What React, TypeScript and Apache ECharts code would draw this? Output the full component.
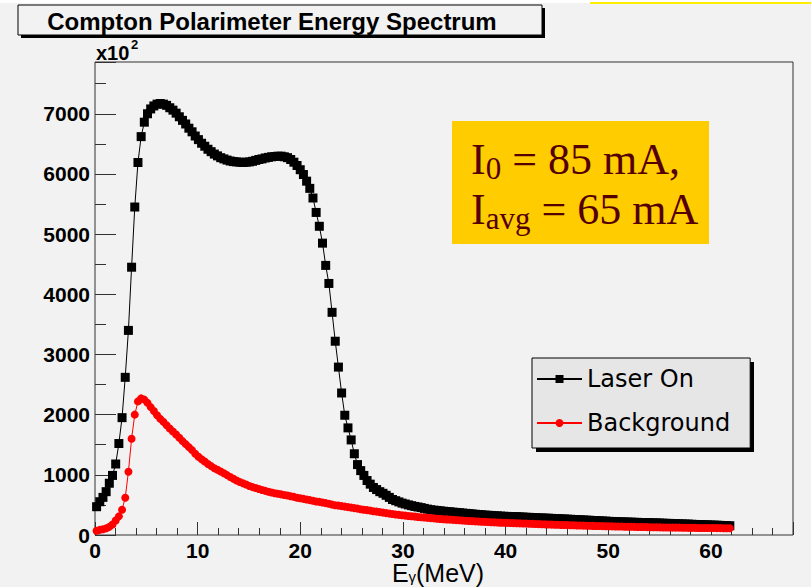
import { useEffect, useRef } from "react";
import * as echarts from "echarts";

// Histogram bin width of the photon-energy spectrum (MeV)
const BIN_WIDTH = 0.31;

// Counts per bin, in units of 10^2
const laserOn = [
  470, 553, 625, 720, 860, 990, 1180, 1520, 1950, 2620,
  3400, 4450, 5450, 6190, 6620, 6860, 7000, 7080, 7130, 7160,
  7170, 7160, 7140, 7100, 7060, 7010, 6950, 6890, 6830, 6760,
  6700, 6630, 6570, 6510, 6460, 6410, 6370, 6330, 6300, 6270,
  6250, 6230, 6215, 6205, 6200, 6195, 6190, 6195, 6200, 6210,
  6225, 6240, 6250, 6265, 6275, 6285, 6290, 6295, 6295, 6285,
  6270, 6240, 6195, 6140, 6070, 5990, 5880, 5760, 5600, 5360,
  5130, 4850, 4480, 4180, 3700, 3220, 2790, 2360, 1990, 1780,
  1580, 1350, 1170, 1070, 990, 905, 845, 790, 755, 720,
  693, 660, 625, 590, 570, 550, 530, 515, 500, 487,
  475, 465, 455, 442, 430, 420, 413, 408, 402, 395,
  390, 386, 380, 375, 371, 365, 360, 356, 350, 345,
  340, 336, 331, 328, 325, 320, 318, 314, 311, 309,
  306, 304, 305, 300, 298, 295, 293, 291, 287, 285,
  283, 280, 279, 276, 273, 271, 268, 266, 263, 261,
  258, 255, 253, 249, 247, 245, 241, 240, 236, 233,
  231, 227, 225, 223, 220, 218, 217, 215, 213, 211,
  210, 208, 207, 205, 204, 202, 200, 199, 196, 194,
  193, 190, 188, 187, 184, 182, 181, 178, 176, 175,
  172, 170, 169, 166, 164, 163, 160, 158, 157, 154,
];

const background = [
  70, 85, 95, 110, 135, 175, 240, 310, 420, 620,
  1050, 1600, 2000, 2220, 2270, 2250, 2195, 2125, 2060, 1990,
  1930, 1880, 1825, 1770, 1720, 1670, 1615, 1560, 1510, 1460,
  1410, 1350, 1300, 1260, 1220, 1180, 1145, 1110, 1085, 1055,
  1025, 995, 965, 935, 905, 880, 860, 840, 815, 795,
  780, 765, 748, 733, 718, 705, 695, 685, 675, 665,
  655, 645, 633, 620, 610, 600, 590, 580, 568, 558,
  550, 540, 530, 520, 505, 495, 488, 480, 472, 463,
  455, 447, 438, 428, 420, 413, 405, 396, 388, 380,
  372, 364, 355, 348, 341, 334, 328, 322, 316, 311,
  306, 300, 295, 290, 285, 280, 276, 271, 267, 263,
  259, 255, 251, 247, 244, 240, 237, 234, 230, 227,
  224, 221, 218, 215, 212, 210, 207, 205, 203, 201,
  199, 197, 195, 193, 191, 189, 187, 185, 183, 181,
  179, 177, 175, 173, 171, 169, 167, 166, 164, 162,
  161, 159, 157, 156, 154, 153, 151, 150, 149, 147,
  146, 145, 143, 142, 141, 140, 138, 137, 136, 135,
  134, 133, 132, 131, 130, 129, 128, 127, 126, 125,
  124, 123, 122, 122, 121, 120, 119, 119, 118, 117,
  117, 116, 116, 115, 115, 114, 114, 113, 113, 112,
];

const SERIES_NAMES = ["Laser On", "Background"];
const X_RANGE = [0, 68];
const Y_RANGE = [0, 7860];
const X_LABEL_STEP = 10;
const Y_LABEL_STEP = 1000;

const toPoints = (values: number[]) =>
  values.map((v, i) => [Number(((i + 0.5) * BIN_WIDTH).toFixed(3)), v]);

export default function App() {
  const ref = useRef<HTMLDivElement>(null);

  useEffect(() => {
    if (!ref.current) return;
    const chart = echarts.init(ref.current, null, { renderer: "svg" });

    const tickFont = {
      fontFamily: "Liberation Sans",
      fontWeight: "bold",
      fontSize: 21,
      lineHeight: 16,
      color: "#000",
    };
    const frameColor = "#333";

    chart.setOption({
      animation: false,
      backgroundColor: "#f2f2f2",
      grid: {
        left: 95,
        right: 18,
        top: 62,
        bottom: 52,
        show: true,
        borderColor: frameColor,
        borderWidth: 1,
        backgroundColor: "rgba(0,0,0,0)",
      },
      xAxis: [
        {
          type: "value",
          min: X_RANGE[0],
          max: X_RANGE[1],
          interval: 2,
          position: "bottom",
          axisLine: { show: false },
          axisTick: { inside: true, length: 7, lineStyle: { color: frameColor } },
          axisLabel: {
            ...tickFont,
            margin: 7,
            formatter: (v: number) =>
              v % X_LABEL_STEP === 0 && v <= 60 ? String(v) : "",
          },
          splitLine: { show: false },
        },
        {
          type: "value",
          min: X_RANGE[0],
          max: X_RANGE[1],
          interval: X_LABEL_STEP,
          position: "bottom",
          axisLine: { show: false },
          axisTick: { inside: true, length: 13, lineStyle: { color: frameColor } },
          axisLabel: { show: false },
          splitLine: { show: false },
        },
      ],
      yAxis: [
        {
          type: "value",
          min: Y_RANGE[0],
          max: Y_RANGE[1],
          interval: 500,
          position: "left",
          axisLine: { show: false },
          axisTick: { inside: true, length: 11, lineStyle: { color: frameColor } },
          axisLabel: {
            ...tickFont,
            margin: 5,
            formatter: (v: number) => (v % Y_LABEL_STEP === 0 ? String(v) : ""),
          },
          splitLine: { show: false },
        },
        {
          type: "value",
          min: Y_RANGE[0],
          max: Y_RANGE[1],
          interval: Y_LABEL_STEP,
          position: "left",
          axisLine: { show: false },
          axisTick: { inside: true, length: 21, lineStyle: { color: frameColor } },
          axisLabel: { show: false },
          splitLine: { show: false },
        },
      ],
      legend: {
        orient: "vertical",
        left: 532,
        top: 358,
        padding: [7, 20, 11, 4],
        itemGap: 16,
        itemWidth: 45,
        itemHeight: 10,
        selectedMode: false,
        backgroundColor: "#e6e6e6",
        borderColor: "#000",
        borderWidth: 1,
        borderRadius: 0,
        textStyle: {
          fontFamily: "DejaVu Sans",
          fontSize: 24,
          lineHeight: 28,
          color: "#000",
        },
        data: SERIES_NAMES,
      },
      series: [
        {
          name: SERIES_NAMES[0],
          type: "line",
          xAxisIndex: 0,
          yAxisIndex: 0,
          data: toPoints(laserOn),
          symbol: "rect",
          symbolSize: 9,
          showAllSymbol: true,
          itemStyle: { color: "#000" },
          lineStyle: { color: "#000", width: 1 },
        },
        {
          name: SERIES_NAMES[1],
          type: "line",
          xAxisIndex: 0,
          yAxisIndex: 0,
          data: toPoints(background),
          symbol: "circle",
          symbolSize: 8,
          showAllSymbol: true,
          itemStyle: { color: "#ff0000" },
          lineStyle: { color: "#ff0000", width: 1 },
        },
      ],
      graphic: [
        { type: "rect", z: 0, shape: { x: 0, y: 0, width: 811, height: 3 }, style: { fill: "#ffffff" } },
        { type: "line", z: 1, shape: { x1: 590, y1: 3, x2: 811, y2: 3 }, style: { stroke: "#ffee00", lineWidth: 2 } },
        // title box with drop shadow
        { type: "rect", z: 1, shape: { x: 21, y: 8, width: 524, height: 30 }, style: { fill: "#000" } },
        { type: "rect", z: 2, shape: { x: 18, y: 5, width: 524, height: 30 }, style: { fill: "#f2f2f2", stroke: "#000", lineWidth: 1 } },
        {
          type: "text",
          z: 3,
          style: {
            x: 272,
            y: 21,
            text: "Compton Polarimeter Energy Spectrum",
            align: "center",
            verticalAlign: "middle",
            fontFamily: "Liberation Sans",
            fontWeight: "bold",
            fontSize: 24,
            fill: "#000",
          },
        },
        // axis multiplier
        {
          type: "text",
          z: 3,
          style: {
            x: 96,
            y: 53,
            text: "x10",
            align: "left",
            verticalAlign: "middle",
            fontFamily: "Liberation Sans",
            fontWeight: "bold",
            fontSize: 20,
            fill: "#000",
          },
        },
        {
          type: "text",
          z: 3,
          style: {
            x: 131,
            y: 44,
            text: "2",
            align: "left",
            verticalAlign: "middle",
            fontFamily: "Liberation Sans",
            fontWeight: "bold",
            fontSize: 13,
            fill: "#000",
          },
        },
        // beam current annotation
        { type: "rect", z: 2, shape: { x: 452, y: 121, width: 257, height: 123 }, style: { fill: "#ffcc00" } },
        {
          type: "text",
          z: 3,
          style: {
            x: 471,
            y: 134,
            align: "left",
            verticalAlign: "top",
            text: "{m|I}{s|0}{m| = 85 mA,}\n{m|I}{s|avg}{m| = 65 mA}",
            fill: "#550000",
            rich: {
              m: { fontFamily: "Liberation Serif", fontSize: 44, lineHeight: 50, fill: "#550000" },
              s: { fontFamily: "Liberation Serif", fontSize: 31, lineHeight: 28, verticalAlign: "bottom", fill: "#550000" },
            },
          },
        },
        // legend drop shadow
        { type: "rect", z: 1, shape: { x: 536, y: 362, width: 218, height: 90 }, style: { fill: "#000" } },
        // x-axis title
        {
          type: "text",
          z: 3,
          style: {
            x: 438,
            y: 562,
            align: "center",
            verticalAlign: "top",
            text: "{t|E}{s|γ}{t|(MeV)}",
            fill: "#000",
            rich: {
              t: { fontFamily: "Liberation Sans", fontSize: 25, lineHeight: 22, fill: "#000" },
              s: { fontFamily: "Liberation Sans", fontSize: 15, lineHeight: 10, verticalAlign: "bottom", fill: "#000" },
            },
          },
        },
      ],
    });

    return () => chart.dispose();
  }, []);

  return (
    <div
      ref={ref}
      style={{ position: "absolute", left: 0, top: 0, width: 811, height: 587 }}
    />
  );
}
